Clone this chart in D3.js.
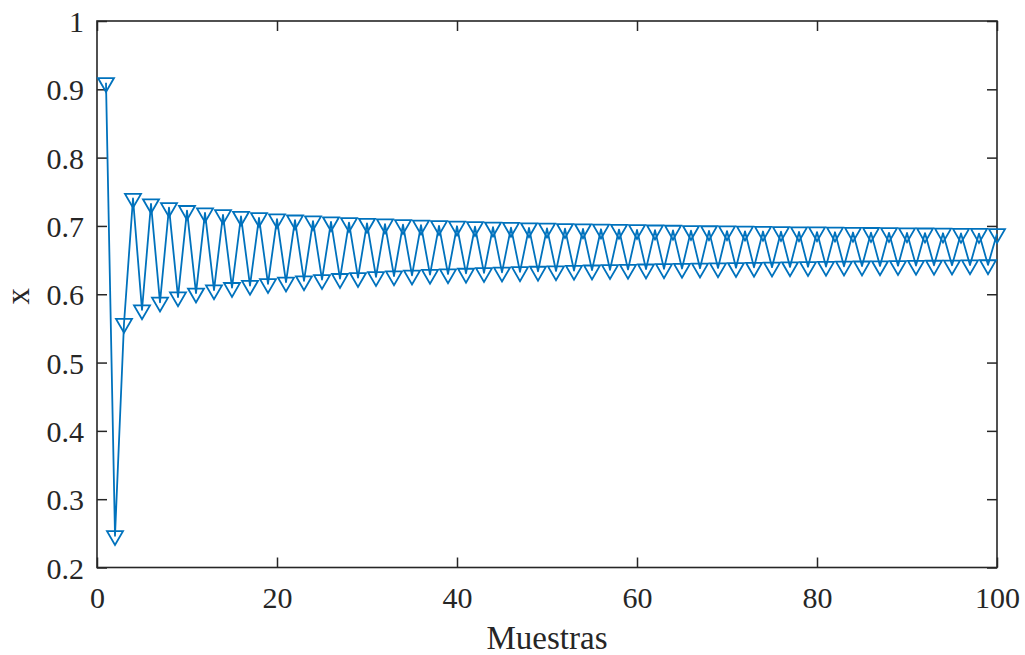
<!DOCTYPE html>
<html>
<head>
<meta charset="utf-8">
<script src="https://cdn.jsdelivr.net/npm/d3@7"></script>
<style>
  html, body { margin: 0; padding: 0; background: #ffffff; }
  svg { display: block; }
  svg text { font-family: "Liberation Serif", "Times New Roman", serif !important; fill: #262626; }
</style>
</head>
<body>
<svg id="chart" width="1025" height="655"></svg>
<script>
// Sample values x(n), n = 1..100
const values = [
  0.9097, 0.2465, 0.5572, 0.7402, 0.5770, 0.7322, 0.5882, 0.7267, 0.5959, 0.7224,
  0.6016, 0.7190, 0.6061, 0.7163, 0.6097, 0.7139, 0.6127, 0.7119, 0.6153, 0.7101,
  0.6176, 0.7085, 0.6195, 0.7071, 0.6213, 0.7059, 0.6229, 0.7047, 0.6243, 0.7037,
  0.6256, 0.7027, 0.6267, 0.7018, 0.6278, 0.7010, 0.6288, 0.7002, 0.6297, 0.6995,
  0.6306, 0.6988, 0.6314, 0.6982, 0.6321, 0.6976, 0.6328, 0.6971, 0.6335, 0.6965,
  0.6341, 0.6960, 0.6347, 0.6956, 0.6353, 0.6951, 0.6358, 0.6947, 0.6363, 0.6943,
  0.6368, 0.6939, 0.6372, 0.6935, 0.6377, 0.6931, 0.6381, 0.6928, 0.6385, 0.6925,
  0.6389, 0.6921, 0.6393, 0.6918, 0.6396, 0.6915, 0.6400, 0.6912, 0.6403, 0.6910,
  0.6406, 0.6907, 0.6409, 0.6904, 0.6412, 0.6902, 0.6415, 0.6899, 0.6418, 0.6897,
  0.6420, 0.6895, 0.6423, 0.6893, 0.6425, 0.6890, 0.6428, 0.6888, 0.6430, 0.6886
];
const xTicks = [0, 20, 40, 60, 80, 100];
const yTicks = [0.2, 0.3, 0.4, 0.5, 0.6, 0.7, 0.8, 0.9, 1];
const xDomain = [0, 100];
const yDomain = [0.2, 1];
const xLabel = "Muestras";
const yLabel = "x";

const points = values.map((v, i) => ({ n: i + 1, v }));

const box = { left: 97, right: 997, top: 21, bottom: 567.5 };
const axisColor = "#262626";
const lineColor = "#0072BD";
const tickLen = 10;
const serif = '"Liberation Serif", "Times New Roman", serif';

const svg = d3.select("#chart");

const x = d3.scaleLinear().domain(xDomain).range([box.left, box.right]);
const y = d3.scaleLinear().domain(yDomain).range([box.bottom, box.top]);

// Axes: bottom/left carry labels, top/right mirror the ticks; all ticks point inward
const axisFont = 30;
const styleAxis = g => {
  g.attr("font-family", serif).attr("font-size", axisFont);
  g.select(".domain").remove();
  g.selectAll(".tick line").attr("stroke", axisColor).attr("stroke-width", 1.5);
  g.selectAll(".tick text").attr("fill", axisColor);
};

svg.append("g")
  .attr("transform", `translate(0,${box.bottom})`)
  .call(d3.axisBottom(x).tickValues(xTicks).tickSizeInner(-tickLen).tickSizeOuter(0).tickPadding(0).tickFormat(d3.format("d")))
  .call(styleAxis)
  .call(g => g.selectAll(".tick text").attr("dy", null).attr("y", 40.5));

svg.append("g")
  .attr("transform", `translate(${box.left},0)`)
  .call(d3.axisLeft(y).tickValues(yTicks).tickSizeInner(-tickLen).tickSizeOuter(0).tickPadding(0).tickFormat(d => String(+d.toFixed(1))))
  .call(styleAxis)
  .call(g => g.selectAll(".tick text").attr("dy", null).attr("x", -13).attr("y", 10.5));

svg.append("g")
  .attr("transform", `translate(0,${box.top})`)
  .call(d3.axisTop(x).tickValues(xTicks).tickSizeInner(-tickLen).tickSizeOuter(0).tickFormat(""))
  .call(styleAxis);

svg.append("g")
  .attr("transform", `translate(${box.right},0)`)
  .call(d3.axisRight(y).tickValues(yTicks).tickSizeInner(-tickLen).tickSizeOuter(0).tickFormat(""))
  .call(styleAxis);

// Box outline
svg.append("rect")
  .attr("x", box.left).attr("y", box.top)
  .attr("width", box.right - box.left).attr("height", box.bottom - box.top)
  .attr("fill", "none").attr("stroke", axisColor).attr("stroke-width", 1.6);

// Axis titles
svg.append("text")
  .attr("x", (box.left + box.right) / 2).attr("y", 649)
  .attr("text-anchor", "middle")
  .attr("font-family", serif)
  .style("font-size", "33px")
  .text(xLabel);

svg.append("text")
  .attr("transform", `translate(28.5,${(box.top + box.bottom) / 2 + 2}) rotate(-90)`)
  .attr("text-anchor", "middle")
  .attr("font-family", serif)
  .style("font-size", "33px")
  .text(yLabel);

// Data line
const line = d3.line().x(d => x(d.n)).y(d => y(d.v));
svg.append("path")
  .datum(points)
  .attr("fill", "none")
  .attr("stroke", lineColor)
  .attr("stroke-width", 1.8)
  .attr("stroke-linejoin", "round")
  .attr("d", line);

// Downward-pointing hollow triangle markers, centred on the centroid
const side = 16;
const h = side * Math.sqrt(3) / 2;
const tri = `M${-side / 2},${-h / 3}L${side / 2},${-h / 3}L0,${2 * h / 3}Z`;
svg.append("g")
  .selectAll("path")
  .data(points)
  .join("path")
  .attr("transform", d => `translate(${x(d.n)},${y(d.v)})`)
  .attr("d", tri)
  .attr("fill", "none")
  .attr("stroke", lineColor)
  .attr("stroke-width", 1.8);
</script>
</body>
</html>
